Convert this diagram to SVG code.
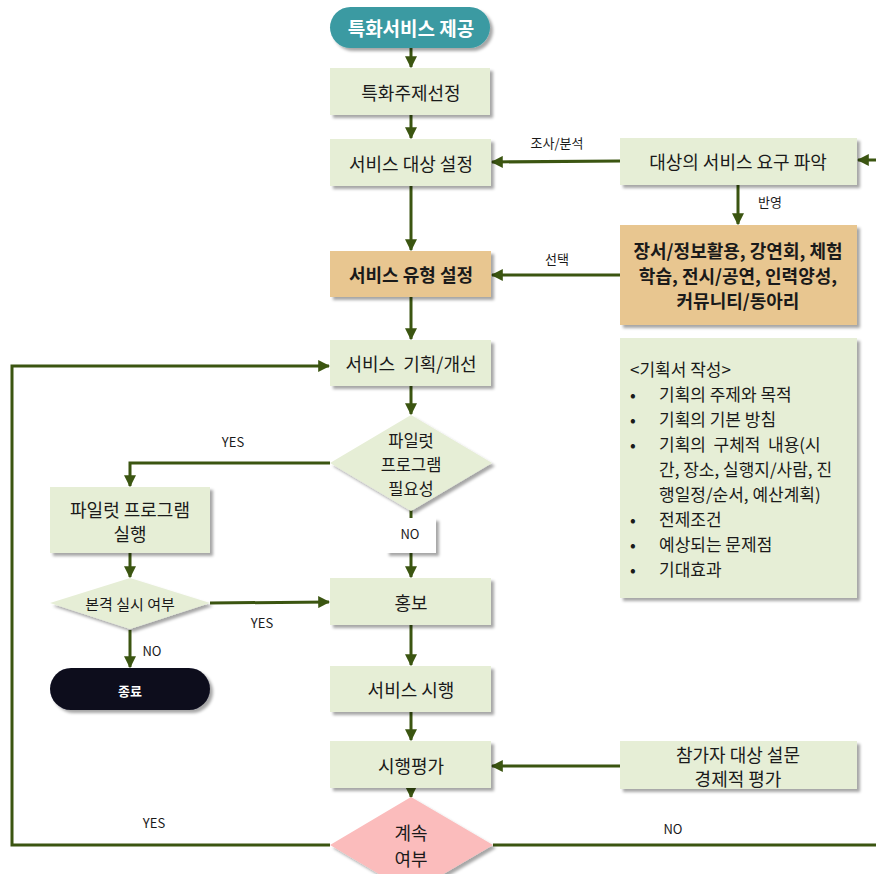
<svg xmlns="http://www.w3.org/2000/svg" width="876" height="874" viewBox="0 0 876 874">
<defs>
<filter id="sh" x="-10%" y="-10%" width="130%" height="140%">
<feDropShadow dx="3" dy="3" stdDeviation="1.5" flood-color="#000" flood-opacity="0.35"/>
</filter>
<marker id="ah" viewBox="0 0 10 10" refX="9" refY="5" markerWidth="4" markerHeight="4" orient="auto" markerUnits="strokeWidth">
<path d="M0,0 L10,5 L0,10 z" fill="#3b5511"/>
</marker>
<style>
.bx{fill:#e6eed6;filter:url(#sh)}
.tan{fill:#e8c690;filter:url(#sh)}
.t{font-family:"Noto Sans CJK KR","Noto Sans",sans-serif;font-size:18px;fill:#1a1a1a;text-anchor:middle;dominant-baseline:central}
.b{font-weight:bold}
.s{font-size:13px}
.d{font-size:16.5px}
.tb{font-size:18px;font-weight:bold}
.l{font-family:"Noto Sans CJK KR","Noto Sans",sans-serif;font-size:17px;fill:#1a1a1a;dominant-baseline:central}
.c{fill:none;stroke:#3b5511;stroke-width:3}
.ca{fill:none;stroke:#3b5511;stroke-width:3;marker-end:url(#ah)}
</style>
</defs>
<g id="connectors">
<line class="ca" x1="411" y1="48" x2="411" y2="67"/>
<line class="ca" x1="411" y1="115" x2="411" y2="138"/>
<line class="ca" x1="411" y1="186" x2="411" y2="250"/>
<line class="ca" x1="411" y1="297" x2="411" y2="339"/>
<line class="ca" x1="411" y1="386" x2="411" y2="414"/>
<polyline class="ca" points="330,463 130,463 130,486"/>
<line class="ca" x1="411" y1="510" x2="411" y2="577"/>
<line class="ca" x1="130" y1="553" x2="130" y2="577"/>
<line class="ca" x1="210" y1="603" x2="329" y2="602"/>
<line class="ca" x1="130" y1="630" x2="130" y2="667"/>
<line class="ca" x1="411" y1="625" x2="411" y2="665"/>
<line class="ca" x1="411" y1="712" x2="411" y2="740"/>
<line class="ca" x1="411" y1="788" x2="411" y2="797"/>
<polyline class="ca" points="330,845 12,845 12,366 329,366"/>
<line class="c" x1="493" y1="845" x2="876" y2="845"/>
<line class="ca" x1="876" y1="160" x2="858" y2="160"/>
<line class="ca" x1="620" y1="161" x2="492" y2="162"/>
<line class="ca" x1="738" y1="185" x2="738" y2="224"/>
<line class="ca" x1="620" y1="275" x2="492" y2="275"/>
<line class="ca" x1="620" y1="766" x2="492" y2="766"/>
<text class="t s" x="557" y="142">조사/분석</text>
<text class="t s" x="770" y="201">반영</text>
<text class="t s" x="557" y="258">선택</text>
<text class="t s" x="233" y="441">YES</text>
<text class="t s" x="262" y="622">YES</text>
<text class="t s" x="152" y="650">NO</text>
<text class="t s" x="154" y="822">YES</text>
<text class="t s" x="673" y="828">NO</text>
</g>
<g id="start">
<rect x="330" y="7" width="160" height="41" rx="20.5" fill="#3a9aa2" filter="url(#sh)"/>
<text class="t b" x="411" y="27" style="fill:#fff;font-size:19px">특화서비스 제공</text>
</g>
<g id="n1"><rect class="bx" x="330" y="68" width="160" height="47"/><text class="t" x="411" y="92">특화주제선정</text></g>
<g id="n2"><rect class="bx" x="330" y="139" width="161" height="47"/><text class="t" x="411" y="163">서비스 대상 설정</text></g>
<g id="n3"><rect class="tan" x="330" y="251" width="161" height="46"/><text class="t b" x="411" y="274">서비스 유형 설정</text></g>
<g id="n4"><rect class="bx" x="330" y="340" width="161" height="46"/><text class="t" x="411" y="363" xml:space="preserve">서비스  기획/개선</text></g>
<g id="d1">
<polygon points="411,415 492,463 411,511 330,463" fill="#e6eed6" filter="url(#sh)"/>
<text class="t d" x="411" y="440">파일럿</text>
<text class="t d" x="411" y="464">프로그램</text>
<text class="t d" x="411" y="488">필요성</text>
</g>
<g id="nolabel"><rect x="386" y="518" width="50" height="35" fill="#fff" filter="url(#sh)"/><text class="t s" x="410" y="533">NO</text></g>
<g id="pilot"><rect class="bx" x="50" y="487" width="160" height="66"/><text class="t" x="130" y="509">파일럿 프로그램</text><text class="t" x="130" y="533">실행</text></g>
<g id="d2"><polygon points="130,578 210,603 130,629 50,603" fill="#e6eed6" filter="url(#sh)"/><text class="t" x="130" y="603" style="font-size:15px">본격 실시 여부</text></g>
<g id="end"><rect x="50" y="668" width="160" height="42" rx="21" fill="#0a0a1e" filter="url(#sh)"/><text class="t b" x="130" y="690" style="fill:#fff;font-size:13px">종료</text></g>
<g id="n5"><rect class="bx" x="330" y="578" width="161" height="47"/><text class="t" x="411" y="602">홍보</text></g>
<g id="n6"><rect class="bx" x="330" y="666" width="161" height="46"/><text class="t" x="411" y="689">서비스 시행</text></g>
<g id="n7"><rect class="bx" x="330" y="741" width="161" height="47"/><text class="t" x="411" y="765">시행평가</text></g>
<g id="d3"><polygon points="411,797 493,845 411,893 330,845" fill="#fbbcbc" filter="url(#sh)"/><text class="t" x="411" y="832">계속</text><text class="t" x="411" y="858">여부</text></g>
<g id="r1"><rect class="bx" x="620" y="138" width="237" height="47"/><text class="t" x="738" y="161">대상의 서비스 요구 파악</text></g>
<g id="r2"><rect class="tan" x="620" y="225" width="237" height="100"/>
<text class="t tb" x="738" y="250">장서/정보활용, 강연회, 체험</text>
<text class="t tb" x="738" y="275">학습, 전시/공연, 인력양성,</text>
<text class="t tb" x="738" y="300">커뮤니티/동아리</text>
</g>
<g id="r3"><rect class="bx" x="620" y="338" width="237" height="260"/>
<text class="l" x="630" y="368">&lt;기획서 작성&gt;</text>
<text class="l" x="630" y="393">•</text><text class="l" x="659" y="393">기획의 주제와 목적</text>
<text class="l" x="630" y="418">•</text><text class="l" x="659" y="418">기획의 기본 방침</text>
<text class="l" x="630" y="443">•</text><text class="l" x="659" y="443" xml:space="preserve">기획의  구체적  내용(시</text>
<text class="l" x="659" y="468">간, 장소, 실행지/사람, 진</text>
<text class="l" x="659" y="493">행일정/순서, 예산계획)</text>
<text class="l" x="630" y="518">•</text><text class="l" x="659" y="518">전제조건</text>
<text class="l" x="630" y="543">•</text><text class="l" x="659" y="543">예상되는 문제점</text>
<text class="l" x="630" y="568">•</text><text class="l" x="659" y="568">기대효과</text>
</g>
<g id="r4"><rect class="bx" x="620" y="741" width="237" height="48"/><text class="t" x="738" y="754">참가자 대상 설문</text><text class="t" x="738" y="778">경제적 평가</text></g>
</svg>
